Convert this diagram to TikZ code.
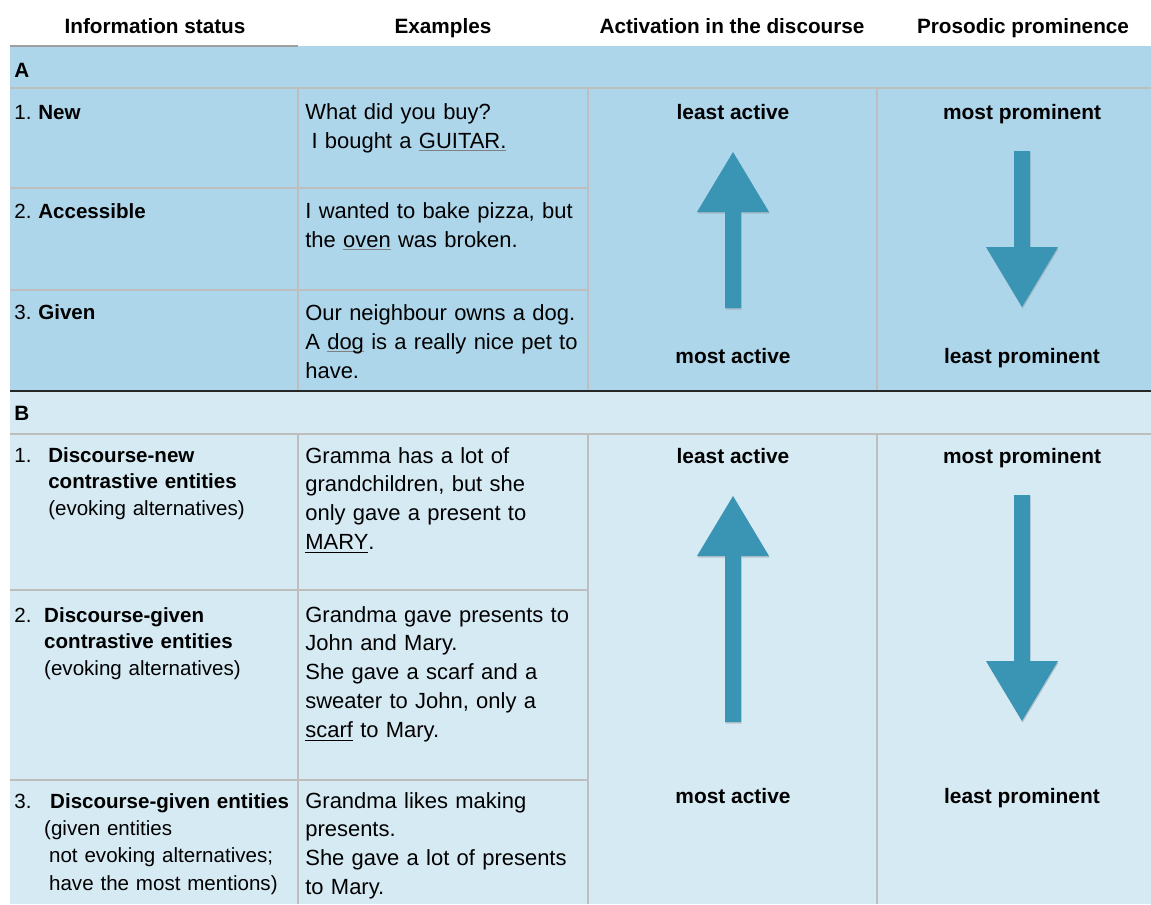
\documentclass[tikz,border=0pt]{standalone}
\usepackage{fontspec}
\setmainfont{Liberation Sans}
\usepackage{tikz}
\usetikzlibrary{shadows}

\definecolor{bandA}{RGB}{174,214,235}
\definecolor{bandB}{RGB}{214,234,244}
\definecolor{rulegray}{RGB}{190,190,190}
\definecolor{arrowteal}{RGB}{58,148,180}
\newcommand{\undl}[1]{\rlap{\textcolor{gray}{\underline{\smash{\phantom{#1}}}}}#1}

\begin{document}
\begin{tikzpicture}[x=0.02cm, y=-0.02cm,
                colhead/.style={font=\fontsize{11.8}{14}\selectfont\bfseries, anchor=base, inner sep=0pt},
                polelabel/.style={font=\fontsize{11.9}{14}\selectfont\bfseries, anchor=base, inner sep=0pt},
                statuscell/.style={font=\fontsize{11.7}{#1}\selectfont\frenchspacing, anchor=base west, inner sep=0pt, text width=6.5cm, align=left},
                statuscell/.default=15.3,
                examplecell/.style={font=\fontsize{12.5}{#1}\selectfont\frenchspacing, anchor=base west, inner sep=0pt, text width=6.5cm, align=left},
                examplecell/.default=16.4,
                gridline/.style={draw=rulegray, line width=0.6pt},
                blockarrow/.style={fill=arrowteal, drop shadow={shadow xshift=0.4pt, shadow yshift=-0.9pt, opacity=0.35}}]
                \useasboundingbox (0,0) rectangle (1151,904);

                % Bands
                \fill[bandA] (10,46) rectangle (1151,391);
                \fill[bandB] (10,391) rectangle (1151,904);

                % Rules
                \draw[gray!75, line width=1.1pt] (10,46) -- (298,46);
                \draw[gridline] (10,88) -- (1151,88);
                \draw[gridline] (10,188) -- (588,188);
                \draw[gridline] (10,290) -- (588,290);
                \draw[gridline] (10,434) -- (1151,434);
                \draw[gridline] (10,590) -- (588,590);
                \draw[gridline] (10,780) -- (588,780);
                \draw[gridline] (298,88) -- (298,391);
                \draw[gridline] (588,88) -- (588,391);
                \draw[gridline] (877,88) -- (877,391);
                \draw[gridline] (298,434) -- (298,904);
                \draw[gridline] (588,434) -- (588,904);
                \draw[gridline] (877,434) -- (877,904);
                \draw[black!85, line width=0.8pt] (10,391) -- (1151,391);

                % Header
                \node[colhead] (hstatus) at (155,33) {Information status};
                \node[colhead] (hexamples) at (443,33) {Examples};
                \node[colhead] (hactivation) at (732,33) {Activation in the discourse};
                \node[colhead] (hprominence) at (1023,33) {Prosodic prominence};

                % Section A
                \node[colhead, anchor=base west] (secA) at (14,77) {A};
                \node[statuscell] (a1) at (14,119) {1. \textbf{New}};
                \node[statuscell] (a2) at (14,218) {2. \textbf{Accessible}};
                \node[statuscell] (a3) at (14,319) {3. \textbf{Given}};
                \node[examplecell=16.7] (ea1) at (305,119) {What did you buy?\\\hspace*{0.28em}I bought a \undl{GUITAR.}};
                \node[examplecell=16.7] (ea2) at (305,218) {I wanted to bake pizza, but\\the \undl{oven} was broken.};
                \node[examplecell=16.7] (ea3) at (305,320) {Our neighbour owns a dog.\\A \undl{dog} is a really nice pet to\\have.};
                \node[polelabel] (aleast) at (733,119) {least active};
                \node[polelabel] (amost) at (733,363) {most active};
                \node[polelabel] (amostp) at (1022,119) {most prominent};
                \node[polelabel] (aleastp) at (1022,363) {least prominent};
                \fill[blockarrow] (725,308) -- (725,212) -- (697,212) -- (733,152) -- (769,212) -- (741,212) -- (741,308) -- cycle;
                \fill[blockarrow] (1014,151) -- (1030,151) -- (1030,247) -- (1058,247) -- (1022,307) -- (986,247) -- (1014,247) -- cycle;

                % Section B
                \node[colhead, anchor=base west] (secB) at (14,420) {B};
                \node[statuscell] (b1) at (14,462) {\makebox[19.3pt][l]{1.}\textbf{Discourse-new}\\\hspace*{19.3pt}\textbf{contrastive entities}\\\hspace*{19.3pt}(evoking alternatives)};
                \node[statuscell] (b2) at (14,622) {\makebox[17pt][l]{2.}\textbf{Discourse-given}\\\hspace*{17pt}\textbf{contrastive entities}\\\hspace*{17pt}(evoking alternatives)};
                \node[statuscell=15.6] (b3) at (14,808) {\makebox[20.4pt][l]{3.}\textbf{Discourse-given entities}\\\hspace*{17pt}(given entities\\\hspace*{19.8pt}not evoking alternatives;\\\hspace*{19.8pt}have the most mentions)};
                \node[examplecell] (eb1) at (305,463) {Gramma has a lot of\\grandchildren, but she\\only gave a present to\\\underline{MARY}.};
                \node[examplecell] (eb2) at (305,622) {Grandma gave presents to\\John and Mary.\\She gave a scarf and a\\sweater to John, only a\\\underline{scarf} to Mary.};
                \node[examplecell] (eb3) at (305,808) {Grandma likes making\\presents.\\She gave a lot of presents\\to Mary.};
                \node[polelabel] (bleast) at (733,463) {least active};
                \node[polelabel] (bmost) at (733,803) {most active};
                \node[polelabel] (bmostp) at (1022,463) {most prominent};
                \node[polelabel] (bleastp) at (1022,803) {least prominent};
                \fill[blockarrow] (725,722) -- (725,556) -- (697,556) -- (733,496) -- (769,556) -- (741,556) -- (741,722) -- cycle;
                \fill[blockarrow] (1014,495) -- (1030,495) -- (1030,661) -- (1058,661) -- (1022,721) -- (986,661) -- (1014,661) -- cycle;
\end{tikzpicture}
\end{document}
